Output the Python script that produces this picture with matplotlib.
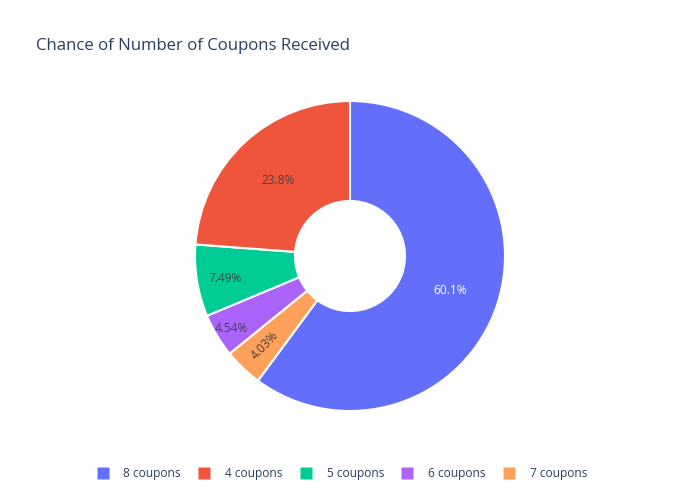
import matplotlib
matplotlib.use("Agg")
import matplotlib.pyplot as plt
from matplotlib.lines import Line2D
import numpy as np

plt.rcParams['font.family'] = ['Open Sans', 'DejaVu Sans']

labels = ["8 coupons", "7 coupons", "6 coupons", "5 coupons", "4 coupons"]
values = [60.1, 4.03, 4.54, 7.49, 23.8]
pct_text = ["60.1%", "4.03%", "4.54%", "7.49%", "23.8%"]
legend_order = ["8 coupons", "4 coupons", "5 coupons", "6 coupons", "7 coupons"]

colors = {"8 coupons": "#636efa", "4 coupons": "#EF553B", "5 coupons": "#00cc96",
          "6 coupons": "#ab63fa", "7 coupons": "#FFA15A"}
text_colors = ["white", "#444444", "#444444", "#444444", "#444444"]
text_r = [0.68, 0.80, 0.89, 0.82, 0.68]

fig = plt.figure(figsize=(7, 5), dpi=100)
fig.patch.set_facecolor("white")
cx, cy, r = 350, 256, 155
ax = fig.add_axes([(cx - r) / 700, (500 - cy - r) / 500, 2 * r / 700, 2 * r / 500])

wedges, _ = ax.pie(values, colors=[colors[l] for l in labels], startangle=90,
                   counterclock=False, radius=1.0,
                   wedgeprops=dict(width=0.645, edgecolor="white", linewidth=1.5))
ax.set_aspect("equal")
ax.set_xlim(-1, 1)
ax.set_ylim(-1, 1)
ax.axis("off")

for w, t, tc, rr in zip(wedges, pct_text, text_colors, text_r):
    mid = np.deg2rad((w.theta1 + w.theta2) / 2)
    x, y = rr * np.cos(mid), rr * np.sin(mid)
    rot = 0
    if t == "4.03%":
        rot = np.rad2deg(mid) + 180
    else:
        y -= 0.012
    ax.text(x, y, t, ha="center", va="center", color=tc, fontsize=8.6, rotation=rot,
            rotation_mode="anchor")

fig.text(36 / 700, 1 - 45.5 / 500, "Chance of Number of Coupons Received", fontsize=12.1,
         color="#2a3f5f", ha="left", va="center")

handles = [Line2D([0], [0], marker="s", linestyle="none", markersize=8,
                  markerfacecolor=colors[l], markeredgecolor="none") for l in legend_order]
leg = fig.legend(handles, legend_order, loc="center", bbox_to_anchor=(342 / 700, 1 - 474 / 500),
                 ncol=5, frameon=False, fontsize=8.6, handletextpad=1.25, columnspacing=1.45,
                 handlelength=1.0)
for txt in leg.get_texts():
    txt.set_color("#2a3f5f")

fig.savefig("out.png", dpi=100, facecolor="white")
